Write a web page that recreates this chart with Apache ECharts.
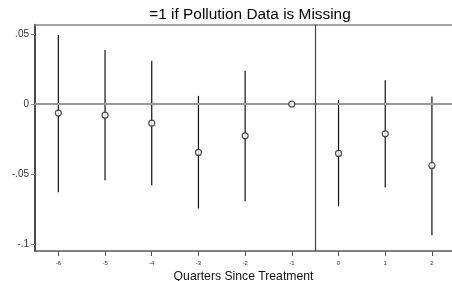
<!DOCTYPE html>
<html>
<head>
<meta charset="utf-8">
<script src="https://cdn.jsdelivr.net/npm/echarts@6/dist/echarts.min.js"></script>
<style>
  html, body { margin: 0; padding: 0; background: #fff; }
  #main { width: 452px; height: 281px; }
</style>
</head>
<body>
<div id="main"></div>
<script>
// quarters relative to treatment
let quarters = [-6, -5, -4, -3, -2, -1, 0, 1, 2];
// point estimates and 95% CI bounds
let coef   = [-0.0064, -0.0079, -0.0136, -0.0345, -0.0226, 0.0000, -0.0352, -0.0212, -0.0438];
let ciLow  = [-0.0629, -0.0543, -0.0579, -0.0745, -0.0693, 0.0000, -0.0729, -0.0595, -0.0936];
let ciHigh = [0.0493, 0.0386, 0.0309, 0.0059, 0.0238, 0.0000, 0.0029, 0.0171, 0.0055];
let yTicks = [-0.1, -0.05, 0, 0.05];

let myChart = echarts.init(document.getElementById('main'));

let fmtY = function (v) {
    if (v === 0) return '0';
    let s = String(+v.toFixed(2));
    return s.replace('0.', '.');
};

let option = {
    animation: false,
    textStyle: { fontFamily: 'Liberation Sans, Arial, sans-serif' },
    title: {
        text: '=1 if Pollution Data is Missing',
        left: 245,
        textAlign: 'center',
        top: 2,
        textStyle: { fontSize: 15.4, fontWeight: 'normal', color: '#000' }
    },
    // keep the plot box fixed, don't let v6 shrink it for the axis name
    grid: { left: 35, right: 0, top: 24.5, bottom: 30, outerBoundsMode: 'none', containLabel: false },
    xAxis: [{
        type: 'value',
        min: -6.5,
        max: 2.43,
        name: 'Quarters Since Treatment',
        nameLocation: 'middle',
        nameGap: 17,
        nameTextStyle: { fontSize: 12.2, color: '#111' },
        splitLine: { show: false },
        axisLine: { onZero: false, lineStyle: { color: '#555', width: 1.5 } },
        axisTick: { customValues: quarters, length: 5, lineStyle: { color: '#555' } },
        axisLabel: { customValues: quarters, fontSize: 6, color: '#333', margin: 9 }
    }, {
        type: 'value',
        position: 'top',
        min: -6.5,
        max: 2.43,
        axisLine: { show: true, onZero: false, lineStyle: { color: '#888', width: 1.5 } },
        axisTick: { show: false },
        axisLabel: { show: false },
        splitLine: { show: false }
    }],
    yAxis: {
        type: 'value',
        min: -0.1048,
        max: 0.0568,
        splitLine: { show: false },
        axisLine: { show: true, onZero: false, lineStyle: { color: '#111', width: 1.5 } },
        axisTick: { customValues: yTicks, length: 4, lineStyle: { color: '#888' } },
        axisLabel: { customValues: yTicks, fontSize: 10, color: '#333', margin: 6, formatter: fmtY }
    },
    series: [{
        type: 'custom',
        silent: true,
        data: quarters.map((q, i) => [q, ciLow[i], ciHigh[i]]),
        encode: { x: 0, y: [1, 2] },
        renderItem: function (params, api) {
            let p1 = api.coord([api.value(0), api.value(1)]);
            let p2 = api.coord([api.value(0), api.value(2)]);
            return {
                type: 'line',
                shape: { x1: p1[0], y1: p1[1], x2: p2[0], y2: p2[1] },
                style: { stroke: '#111', lineWidth: 1.2 }
            };
        },
        markLine: {
            silent: true,
            symbol: 'none',
            label: { show: false },
            data: [
                { yAxis: 0, lineStyle: { color: '#999', width: 2, type: 'solid' } },
                { xAxis: -0.5, lineStyle: { color: '#444', width: 1.2, type: 'solid' } }
            ]
        },
        z: 3
    }, {
        type: 'scatter',
        silent: true,
        data: quarters.map((q, i) => [q, coef[i]]),
        symbol: 'circle',
        symbolSize: 6,
        itemStyle: { color: '#fff', borderColor: '#222', borderWidth: 1.2 },
        z: 5
    }]
};

myChart.setOption(option);
</script>
</body>
</html>
